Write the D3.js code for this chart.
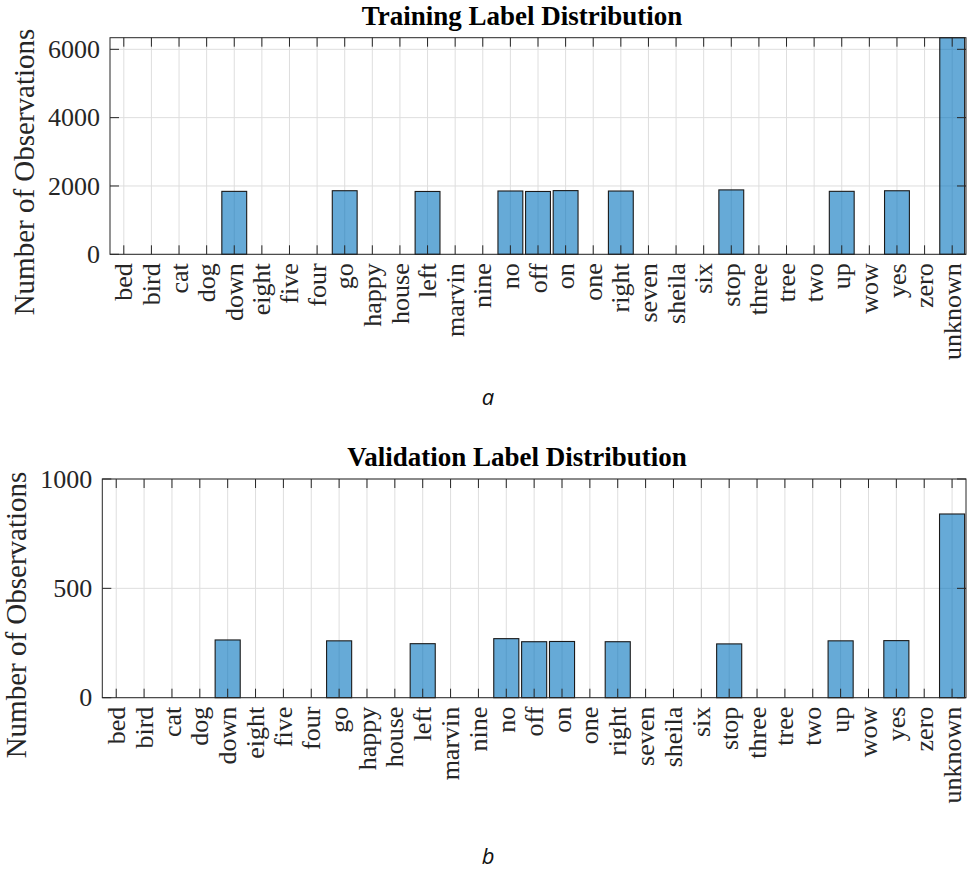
<!DOCTYPE html>
<html>
<head>
<meta charset="utf-8">
<script src="https://cdn.jsdelivr.net/npm/d3@7"></script>
<style>
  body { margin: 0; background: #fff; }
  svg { display: block; }
</style>
</head>
<body>
<svg id="chart" width="970" height="871"></svg>
<script>
const categories = ["bed","bird","cat","dog","down","eight","five","four","go","happy","house","left","marvin","nine","no","off","on","one","right","seven","sheila","six","stop","three","tree","two","up","wow","yes","zero","unknown"];
const trainCounts = [0,0,0,0,1842,0,0,0,1861,0,0,1839,0,0,1853,1839,1864,0,1852,0,0,0,1885,0,0,0,1843,0,1860,0,6340];
const valCounts   = [0,0,0,0,264,0,0,0,260,0,0,247,0,0,270,256,257,0,256,0,0,0,246,0,0,0,260,0,261,0,840];
const trainTicks = [0,2000,4000,6000];
const valTicks = [0,500,1000];
const titles = ["Training Label Distribution","Validation Label Distribution"];
const panelLetters = ["a","b"];
const yLabel = "Number of Observations";

const svg = d3.select("#chart");
const serif = "'Liberation Serif','Times New Roman',serif";
const axisColor = "#262626";
const gridColor = "#dedede";

const panels = [
  {values: trainCounts, ticks: trainTicks, yMax: d3.max(trainCounts), title: titles[0], letter: panelLetters[0],
   left: 110, right: 966, top: 37.7, bottom: 254.3, titleX: 522, titleY: 25, ylabX: 34, ylabY: 172, letterX: 488, letterY: 405},
  {values: valCounts, ticks: valTicks, yMax: 1000, title: titles[1], letter: panelLetters[1],
   left: 102.3, right: 966, top: 479, bottom: 697.7, titleX: 517, titleY: 466, ylabX: 26, ylabY: 615, letterX: 488, letterY: 864}
];

panels.forEach(p => {
  const x = d3.scaleBand().domain(categories).range([p.left, p.right]).paddingInner(0.1).paddingOuter(0.05);
  const y = d3.scaleLinear().domain([0, p.yMax]).range([p.bottom, p.top]);
  const cx = d => x(d) + x.bandwidth() / 2;
  const g = svg.append("g");
  const tickLen = 9;

  // grid
  g.append("g").selectAll("line").data(categories).join("line")
    .attr("x1", cx).attr("x2", cx).attr("y1", p.top).attr("y2", p.bottom)
    .attr("stroke", gridColor).attr("stroke-width", 1);
  g.append("g").selectAll("line").data(p.ticks).join("line")
    .attr("x1", p.left).attr("x2", p.right).attr("y1", d => y(d)).attr("y2", d => y(d))
    .attr("stroke", gridColor).attr("stroke-width", 1);

  // bars
  g.append("g").selectAll("rect").data(categories.map((c, i) => ({c, v: p.values[i]}))).join("rect")
    .attr("x", d => x(d.c)).attr("width", x.bandwidth())
    .attr("y", d => y(d.v)).attr("height", d => y(0) - y(d.v))
    .attr("fill", "#0072BD").attr("fill-opacity", 0.6)
    .attr("stroke", "#1a1a1a").attr("stroke-width", 1.1);

  // box
  g.append("rect").attr("x", p.left).attr("y", p.top)
    .attr("width", p.right - p.left).attr("height", p.bottom - p.top)
    .attr("fill", "none").attr("stroke", axisColor).attr("stroke-width", 1);

  // x ticks (bottom & top, inward)
  const xt = g.append("g");
  xt.selectAll("line.b").data(categories).join("line").attr("class", "b")
    .attr("x1", cx).attr("x2", cx).attr("y1", p.bottom).attr("y2", p.bottom - tickLen)
    .attr("stroke", axisColor);
  xt.selectAll("line.t").data(categories).join("line").attr("class", "t")
    .attr("x1", cx).attr("x2", cx).attr("y1", p.top).attr("y2", p.top + tickLen)
    .attr("stroke", axisColor);
  // y ticks left & right, inward
  g.append("g").selectAll("line").data(p.ticks).join("line")
    .attr("x1", p.left).attr("x2", p.left + tickLen).attr("y1", d => y(d)).attr("y2", d => y(d))
    .attr("stroke", axisColor);
  g.append("g").selectAll("line").data(p.ticks).join("line")
    .attr("x1", p.right).attr("x2", p.right - tickLen).attr("y1", d => y(d)).attr("y2", d => y(d))
    .attr("stroke", axisColor);

  // x tick labels
  g.append("g").selectAll("text").data(categories).join("text")
    .attr("transform", d => `translate(${cx(d)},${p.bottom + 9}) rotate(-90)`)
    .attr("text-anchor", "end").attr("dy", "0.33em")
    .attr("font-family", serif).attr("font-size", 26).attr("fill", axisColor)
    .text(d => d);

  // y tick labels
  g.append("g").selectAll("text").data(p.ticks).join("text")
    .attr("x", p.left - 10).attr("y", d => y(d)).attr("dy", "0.33em")
    .attr("text-anchor", "end")
    .attr("font-family", serif).attr("font-size", 26).attr("fill", axisColor)
    .text(d => d);

  // y label
  g.append("text")
    .attr("transform", `translate(${p.ylabX},${p.ylabY}) rotate(-90)`)
    .attr("text-anchor", "middle")
    .attr("font-family", serif).attr("font-size", 29).attr("fill", axisColor)
    .text(yLabel);

  // title
  g.append("text").attr("x", p.titleX).attr("y", p.titleY)
    .attr("text-anchor", "middle")
    .attr("font-family", serif).attr("font-weight", "bold").attr("font-size", 27).attr("fill", "#000")
    .text(p.title);

  // panel letter
  g.append("text").attr("x", p.letterX).attr("y", p.letterY)
    .attr("text-anchor", "middle")
    .attr("font-family", "'Open Sans','Noto Sans',sans-serif").attr("font-style", "italic").attr("font-size", 22).attr("fill", "#111")
    .text(p.letter);
});
</script>
</body>
</html>
